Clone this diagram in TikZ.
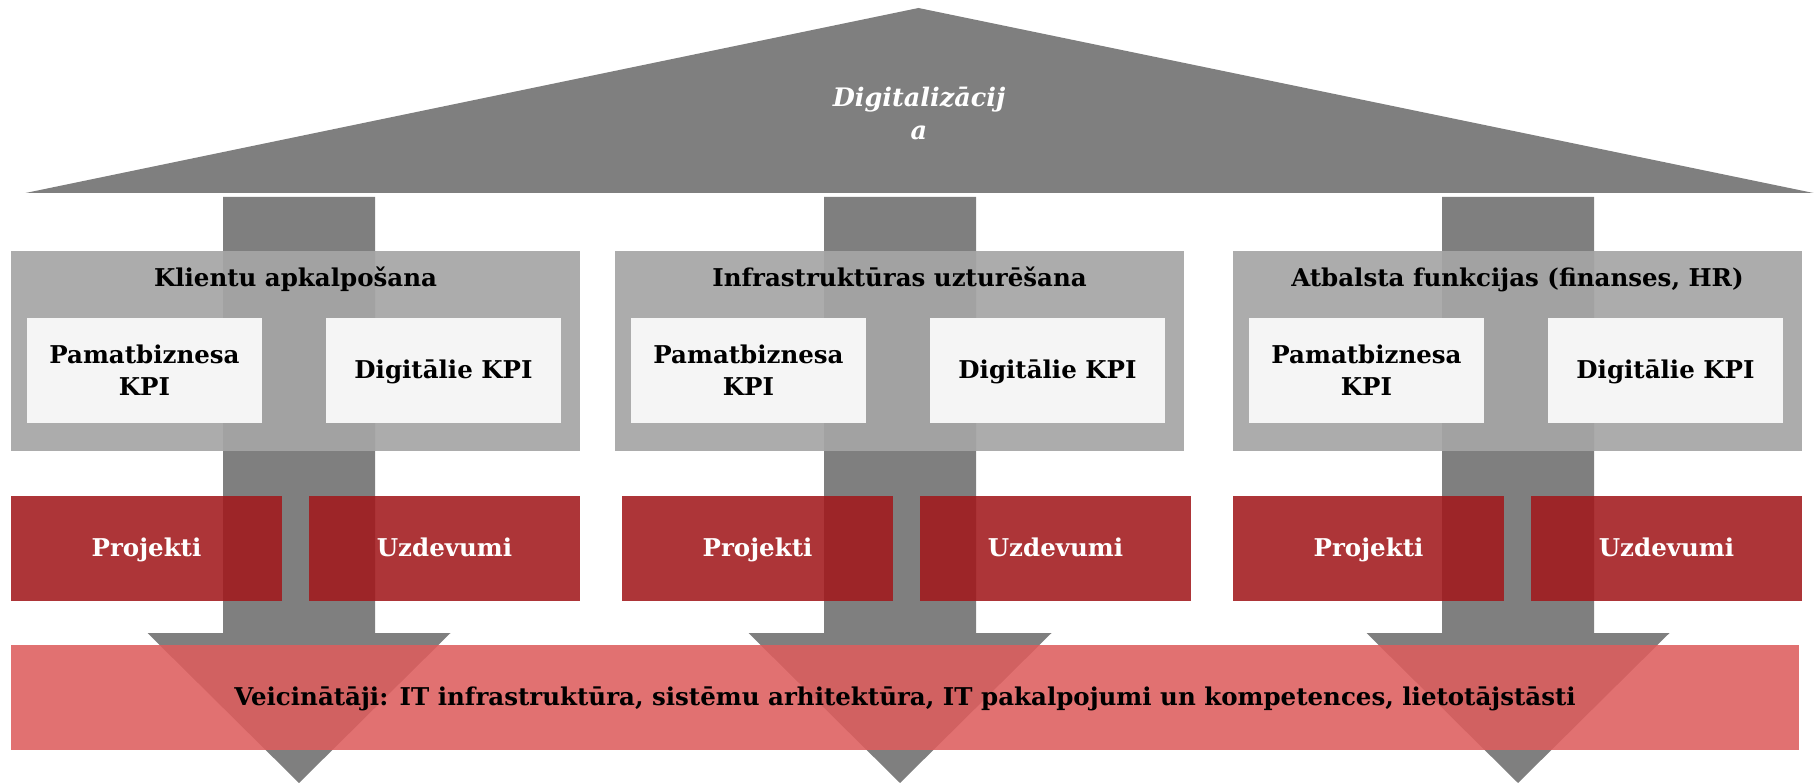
\documentclass[tikz,border=0pt]{standalone}
\usepackage{fontspec}
\setmainfont{DejaVu Serif}
\definecolor{roofgray}{HTML}{7F7F7F}
\definecolor{boxgray}{HTML}{A5A5A5}
\definecolor{kpiwhite}{HTML}{F5F5F5}
\definecolor{taskred}{HTML}{A2191C}
\definecolor{barpink}{HTML}{DD5D5D}
\newcommand{\dfont}{\fontsize{24.5}{32}\selectfont\bfseries}
\tikzset{
  roof/.style={fill=roofgray, draw=none},
  pillar/.style={fill=roofgray, draw=none},
  area/.style={fill=boxgray, fill opacity=0.92, draw=none, inner sep=0pt},
  kpi/.style={fill=kpiwhite, draw=none, inner sep=0pt, align=center, font=\dfont,
    minimum width=235pt, minimum height=105pt},
  kpione/.style={kpi, text height=18pt, text depth=1pt},
  task/.style={fill=taskred, fill opacity=0.88, text opacity=1, draw=none, inner sep=0pt,
    text=white, font=\dfont, text height=18pt, text depth=2pt,
    minimum width=271pt, minimum height=105pt},
  enabler/.style={fill=barpink, fill opacity=0.88, text opacity=1, draw=none, inner sep=0pt,
    font=\dfont, text height=18pt, text depth=2pt},
  ttl/.style={font=\dfont, inner sep=0pt, anchor=base},
}
\begin{document}
\begin{tikzpicture}[x=1pt,y=-1pt]
\useasboundingbox (0,0) rectangle (1816,783);
% roof
\fill[roof] (25.5,193) -- (918.5,8) -- (1813.5,193) -- cycle;
\node[text=white, align=center, font=\fontsize{25.5}{33}\selectfont\bfseries\itshape] (roofttl) at (919,113) {Digitalizācij\\a};
% pillars (arrows)
\foreach \c in {299, 900, 1518} {
  \fill[pillar] (\c-76,197) -- (\c+76,197) -- (\c+76,633) -- (\c+151.5,633)
     -- (\c,783) -- (\c-151.5,633) -- (\c-76,633) -- cycle;
}
% gray areas
\foreach \x/\n/\t in {11/ga/{Klientu apkalpošana}, 615/gb/{Infrastruktūras uzturēšana}, 1233/gc/{Atbalsta funkcijas (finanses, HR)}} {
  \path[area] (\x,251) rectangle (\x+569,451);
  \node[ttl] (\n) at (\x+284.5,286.5) {\t};
  \node[kpi] (\n l) at (\x+16+117.5,370.5) {Pamatbiznesa\\KPI};
  \node[kpione] (\n r) at (\x+315+117.5,370.5) {Digitālie KPI};
}
% red tasks
\foreach \x/\n in {11/ra, 622/rb, 1233/rc} {
  \node[task] (\n p) at (\x+135.5,548.5) {Projekti};
  \node[task] (\n u) at (\x+298+135.5,548.5) {Uzdevumi};
}
% enabler bar
\node[enabler, minimum width=1788pt, minimum height=105pt] (bar) at (905,697.5)
  {Veicinātāji: IT infrastruktūra, sistēmu arhitektūra, IT pakalpojumi un kompetences, lietotājstāsti};
\end{tikzpicture}
\end{document}
